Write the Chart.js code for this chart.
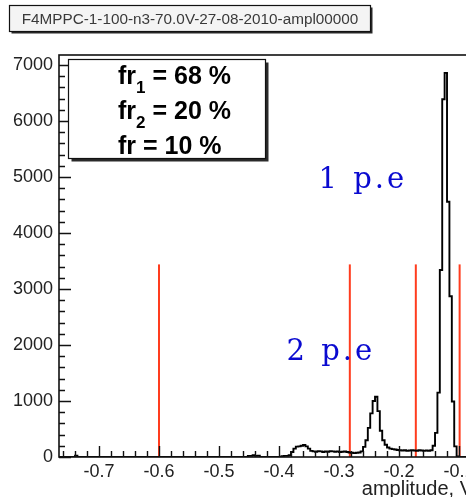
<!DOCTYPE html>
<html>
<head>
<meta charset="utf-8">
<title>F4MPPC-1-100-n3-70.0V-27-08-2010-ampl00000</title>
<script src="https://cdn.jsdelivr.net/npm/chart.js@4.4.0/dist/chart.umd.min.js"></script>
<style>
  html, body { margin: 0; padding: 0; background: #fff; overflow: hidden; }
  #wrap { width: 466px; height: 497px; overflow: hidden; }
  canvas { display: block; }
</style>
</head>
<body>
<div id="wrap"><canvas id="histo" width="500" height="497"></canvas></div>
<script>
// amplitude histogram, 0.004 V bins starting at -0.768 V
const binStart = -0.768;
const binWidth = 0.004;
const counts = [
    0, 0, 0, 0, 0, 0, 0, 25, 0, 0,
    0, 0, 0, 0, 0, 0, 0, 0, 0, 0,
    0, 0, 0, 0, 0, 0, 0, 0, 0, 0,
    0, 0, 0, 0, 0, 0, 0, 0, 0, 0,
    0, 0, 0, 0, 0, 0, 0, 0, 0, 0,
    0, 0, 0, 0, 0, 0, 0, 0, 0, 0,
    0, 0, 0, 0, 0, 0, 0, 0, 0, 0,
    0, 0, 0, 0, 0, 0, 0, 0, 0, 20,
    20, 30, 20, 25, 0, 0, 0, 0, 0, 0,
    0, 0, 0, 15, 20, 20,
    // 3 p.e bump
    30, 90, 150, 185, 190, 200, 215, 190, 150, 110,
    100, 95, 105, 100, 90, 100, 95, 105, 100, 95, 100, 90, 95, 100, 90,
    80, 75, 70, 75, 80,
    // 2 p.e peak
    100, 180, 300, 520, 780, 1000, 1075, 820, 470, 300, 220, 170, 150, 140, 135, 125,
    120, 115, 120, 110, 115, 120, 115, 110, 120, 115, 110, 115, 110,
    // 1 p.e peak
    120, 200, 430, 1150, 3340, 6390, 6860, 4560, 2870, 990, 190, 10,
    0, 0, 0, 0, 0, 0
];

// y axis labels
const yTickValues = [0, 1000, 2000, 3000, 4000, 5000, 6000, 7000];

// cut positions (V) of the red markers and their height
const cutPositions = [-0.6, -0.282, -0.172, -0.099];
const cutHeight = 3440;

const histTitle = 'F4MPPC-1-100-n3-70.0V-27-08-2010-ampl00000';
const xTitle = 'amplitude, V';
const fractionNames = ['fr', 'fr', 'fr'];
const fractionSubs = ['1', '2', ''];
const fractionValues = [' = 68 %', ' = 20 %', ' = 10 %'];
const peakLabels = ['1 p.e', '2 p.e'];
const peakLabelX = [-0.334, -0.3875];
const peakLabelY = [4800, 1737];

const xMin = -0.7667, xMax = -0.0767;
const yMax = 7180;

const histPoints = counts.map((c, i) => ({ x: binStart + i * binWidth, y: c }));
histPoints.push({ x: binStart + counts.length * binWidth, y: 0 });

const cutDatasets = cutPositions.map(c => ({
    data: [{ x: c, y: 0 }, { x: c, y: cutHeight }],
    borderColor: '#ff3c1e',
    borderWidth: 2,
    pointRadius: 0
}));

const FONT = '"Liberation Sans", Arial, Helvetica, sans-serif';

// letter-spaced text, a bit more room on the blank
function spacedText(ctx, str, x, y, gap) {
    for (const ch of str) {
        ctx.fillText(ch, x, y);
        x += ctx.measureText(ch).width + (ch === ' ' ? gap + 1 : gap);
    }
}

function paveBox(ctx, x, y, w, h, fill, shadow) {
    ctx.fillStyle = '#2a2a2a';
    ctx.fillRect(x + shadow, y + shadow, w, h);
    ctx.fillStyle = fill;
    ctx.fillRect(x, y, w, h);
    ctx.strokeStyle = '#111';
    ctx.lineWidth = 1.2;
    ctx.strokeRect(x, y, w, h);
}

// ROOT-like frame, inward ticks, title pave, fractions pave and labels
const rootFrame = {
    id: 'rootFrame',
    beforeDraw(chart) {
        const ctx = chart.ctx;
        ctx.save();
        ctx.fillStyle = '#fff';
        ctx.fillRect(0, 0, chart.width, chart.height);
        ctx.restore();
    },
    afterDraw(chart) {
        const ctx = chart.ctx;
        const a = chart.chartArea;
        const xs = chart.scales.x, ys = chart.scales.y;
        ctx.save();

        // frame
        ctx.strokeStyle = '#111';
        ctx.lineWidth = 1.6;
        ctx.strokeRect(a.left, a.top, a.right - a.left, a.bottom - a.top);

        // y ticks: major every 1000, minor every 200
        ctx.lineWidth = 1.4;
        ctx.beginPath();
        for (let v = 0; v <= yMax; v += 200) {
            const py = Math.round(ys.getPixelForValue(v)) + 0.5;
            const len = v % 1000 === 0 ? 12 : 6;
            ctx.moveTo(a.left, py);
            ctx.lineTo(a.left + len, py);
        }
        // x ticks: major every 0.1, minor every 0.02
        for (let k = -38; k <= -4; k++) {
            const v = k * 0.02;
            if (v < xMin || v > xMax) continue;
            const px = Math.round(xs.getPixelForValue(v)) + 0.5;
            const len = k % 5 === 0 ? 11 : 6;
            ctx.moveTo(px, a.bottom);
            ctx.lineTo(px, a.bottom - len);
        }
        ctx.stroke();

        // title pave
        paveBox(ctx, 9.5, 5.5, 361, 26, '#f4f4f4', 2);
        ctx.fillStyle = '#3a3a3a';
        ctx.font = '15.3px ' + FONT;
        ctx.textAlign = 'center';
        ctx.textBaseline = 'middle';
        ctx.fillText(histTitle, 190, 19.5);

        // fractions pave
        paveBox(ctx, 68.5, 59.5, 197, 99, '#fff', 3);
        ctx.fillStyle = '#000';
        ctx.textAlign = 'left';
        ctx.textBaseline = 'alphabetic';
        const baselines = [83.5, 118.5, 153.5];
        fractionNames.forEach((name, i) => {
            let x = 118;
            ctx.font = 'bold 25px ' + FONT;
            ctx.fillText(name, x, baselines[i]);
            x += ctx.measureText(name).width;
            if (fractionSubs[i]) {
                ctx.font = 'bold 17px ' + FONT;
                ctx.fillText(fractionSubs[i], x, baselines[i] + 9);
                x += ctx.measureText(fractionSubs[i]).width;
            }
            ctx.font = 'bold 25px ' + FONT;
            ctx.fillText(fractionValues[i], x, baselines[i]);
        });

        // photo-electron labels
        ctx.fillStyle = '#0a0ad0';
        ctx.font = '29px "DejaVu Serif", serif';
        peakLabels.forEach((t, i) => {
            spacedText(ctx, t, xs.getPixelForValue(peakLabelX[i]), ys.getPixelForValue(peakLabelY[i]), 3);
        });

        // x axis title, right aligned on the frame
        ctx.fillStyle = '#222';
        ctx.font = '20px ' + FONT;
        ctx.textAlign = 'right';
        ctx.fillText(xTitle, a.right, 495);

        ctx.restore();
    }
};

new Chart(document.getElementById('histo'), {
    type: 'line',
    data: {
        datasets: [{
            data: histPoints,
            stepped: true,
            borderColor: '#000',
            borderWidth: 1.9,
            pointRadius: 0,
            fill: false
        }, ...cutDatasets]
    },
    options: {
        responsive: false,
        animation: false,
        events: [],
        layout: { padding: { top: 55, right: 27, left: 0, bottom: 0 } },
        plugins: { legend: { display: false }, tooltip: { enabled: false } },
        scales: {
            x: {
                type: 'linear',
                min: xMin,
                max: xMax,
                border: { display: false },
                grid: { display: false, drawTicks: false },
                ticks: {
                    stepSize: 0.1,
                    includeBounds: false,
                    autoSkip: false,
                    maxRotation: 0,
                    padding: 4,
                    color: '#222',
                    font: { family: FONT, size: 18 },
                    callback: v => v.toFixed(1)
                },
                afterFit: s => { s.height = 40; }
            },
            y: {
                type: 'linear',
                min: 0,
                max: yMax,
                border: { display: false },
                grid: { display: false, drawTicks: false },
                ticks: {
                    autoSkip: false,
                    padding: 6,
                    color: '#222',
                    font: { family: FONT, size: 18 },
                    callback: v => String(Math.round(v))
                },
                afterBuildTicks: s => { s.ticks = yTickValues.map(v => ({ value: v })); },
                afterFit: s => { s.width = 59; }
            }
        }
    },
    plugins: [rootFrame]
});
</script>
</body>
</html>
